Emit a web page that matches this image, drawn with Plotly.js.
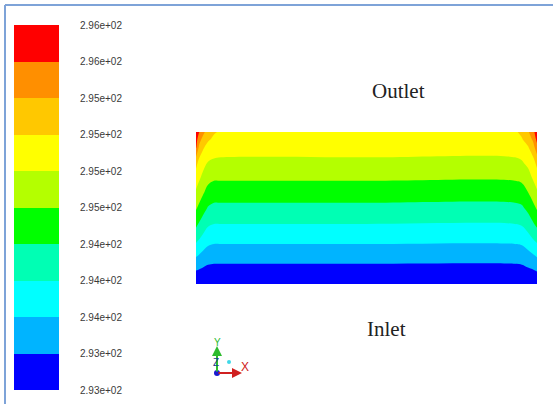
<!DOCTYPE html>
<html>
<head>
<meta charset="utf-8">
<script src="https://cdn.plot.ly/plotly-3.0.1.min.js"></script>
<style>html,body{margin:0;padding:0;background:#fff;}#chart{width:553px;height:404px;}</style>
</head>
<body>
<div id="chart"></div>
<script>
// ---- Data (temperature field, K) ----
// x positions of sampled columns (px-scale units across the domain, 0 = left wall, 341 = right wall)
const xCols = [0, 3, 7, 12, 18, 25, 170, 319, 326, 332, 337, 341];
// y positions of sampled rows (0 = inlet/bottom, 1 = outlet/top)
const yRows = [0, 0.1, 0.2, 0.3, 0.4, 0.5, 0.6, 0.7, 0.8, 0.9, 0.95, 1.0];
// temperature samples, one array per row
const tRow00 = [293.25, 293.24, 293.23, 293.22, 293.22, 293.22, 293.22, 293.22, 293.22, 293.23, 293.25, 293.26];
const tRow01 = [293.51, 293.49, 293.46, 293.42, 293.41, 293.41, 293.41, 293.41, 293.42, 293.46, 293.49, 293.53];
const tRow02 = [293.83, 293.78, 293.71, 293.65, 293.62, 293.62, 293.62, 293.62, 293.64, 293.70, 293.77, 293.83];
const tRow03 = [294.13, 294.06, 293.97, 293.87, 293.84, 293.84, 293.84, 293.84, 293.86, 293.95, 294.05, 294.13];
const tRow04 = [294.40, 294.31, 294.21, 294.09, 294.05, 294.05, 294.05, 294.05, 294.08, 294.18, 294.30, 294.40];
const tRow05 = [294.63, 294.54, 294.42, 294.30, 294.25, 294.25, 294.25, 294.25, 294.28, 294.39, 294.52, 294.63];
const tRow06 = [294.84, 294.74, 294.63, 294.50, 294.45, 294.45, 294.45, 294.45, 294.48, 294.59, 294.72, 294.84];
const tRow07 = [295.02, 294.93, 294.81, 294.69, 294.64, 294.64, 294.64, 294.64, 294.67, 294.78, 294.91, 295.02];
const tRow08 = [295.26, 295.08, 294.98, 294.87, 294.84, 294.83, 294.83, 294.83, 294.86, 294.94, 295.06, 295.24];
const tRow09 = [295.76, 295.40, 295.20, 295.06, 295.00, 294.98, 294.98, 294.98, 295.02, 295.14, 295.32, 295.62];
const tRow095 = [295.85, 295.55, 295.35, 295.20, 295.10, 295.05, 295.05, 295.05, 295.14, 295.28, 295.48, 295.80];
const tRow10 = [295.95, 295.74, 295.52, 295.30, 295.19, 295.12, 295.12, 295.12, 295.22, 295.40, 295.62, 295.90];

// contour levels and legend
const levels = [293.2, 293.48, 293.76, 294.04, 294.32, 294.6, 294.88, 295.16, 295.44, 295.72, 296.0];
const levelLabels = ['2.93e+02','2.93e+02','2.94e+02','2.94e+02','2.94e+02','2.95e+02','2.95e+02','2.95e+02','2.95e+02','2.96e+02','2.96e+02'];
const bandColors = ['#0000ff','#00b4ff','#00ffff','#00ffb4','#00ff00','#b4ff00','#ffff00','#ffc800','#ff8f00','#ff0000'];
const bandIndex = [0, 1, 2, 3, 4, 5, 6, 7, 8, 9];

// ---- build traces ----
const zGrid = [tRow00, tRow01, tRow02, tRow03, tRow04, tRow05, tRow06, tRow07, tRow08, tRow09, tRow095, tRow10];
const nb = bandColors.length;
// contour fill colours are sampled at positions (k+1)/(nb+1)
const contourScale = [[0, bandColors[0]]];
bandColors.forEach((c, k) => contourScale.push([(k + 1) / (nb + 1), c]));
contourScale.push([1, bandColors[nb - 1]]);
// discrete scale for the legend bar
const legendScale = [];
bandColors.forEach((c, k) => { legendScale.push([k / nb, c]); legendScale.push([(k + 1) / nb, c]); });

const W = 553, H = 404;
const px = v => v / W, py = v => 1 - v / H;

const contour = {
  type: 'contour', x: xCols, y: yRows, z: zGrid,
  autocontour: false,
  contours: {start: levels[0], end: levels[levels.length - 1], size: levels[1] - levels[0], coloring: 'fill', showlines: false},
  line: {width: 0},
  colorscale: contourScale, showscale: false, hoverinfo: 'skip',
  xaxis: 'x', yaxis: 'y'
};
const legendBar = {
  type: 'heatmap', x: [0], y: levels, z: bandIndex.map(k => [k]),
  colorscale: legendScale, zmin: -0.5, zmax: nb - 0.5, showscale: false, hoverinfo: 'skip',
  xaxis: 'x2', yaxis: 'y2'
};

const lblFont = {family: 'Arial, "Liberation Sans", sans-serif', size: 10, color: '#3a3a3a'};
const serif = {family: '"Liberation Serif", "Times New Roman", serif', size: 21, color: '#222'};
const note = (x, y, text, font) => ({xref: 'paper', yref: 'paper', x: px(x), y: py(y), xanchor: 'center', yanchor: 'middle', text, showarrow: false, font});

const layout = {
  width: W, height: H, margin: {l: 0, r: 0, t: 0, b: 0},
  paper_bgcolor: '#fff', plot_bgcolor: '#fff', showlegend: false,
  xaxis: {domain: [px(196), px(537)], range: [0, 341], visible: false, fixedrange: true},
  yaxis: {domain: [py(284), py(132)], range: [0, 1], visible: false, fixedrange: true},
  xaxis2: {domain: [px(14), px(59)], range: [-0.5, 0.5], visible: false, anchor: 'y2'},
  yaxis2: {domain: [py(390), py(25)], range: [levels[0], levels[levels.length - 1]], anchor: 'x2', side: 'right',
    tickmode: 'array', tickvals: levels, ticktext: levelLabels, ticks: 'outside', ticklen: 18,
    tickcolor: 'rgba(0,0,0,0)', showline: false, showgrid: false, zeroline: false, tickfont: lblFont},
  shapes: [
    {type: 'line', xref: 'paper', yref: 'paper', x0: px(5), x1: 1, y0: py(5), y1: py(5), line: {color: '#7ea3d8', width: 2}},
    {type: 'line', xref: 'paper', yref: 'paper', x0: px(5), x1: px(5), y0: py(5), y1: 0, line: {color: '#7ea3d8', width: 2}},
    {type: 'circle', xref: 'paper', yref: 'paper', x0: px(214), x1: px(220), y0: py(376), y1: py(370), fillcolor: '#1a1ad0', line: {width: 0}},
    {type: 'circle', xref: 'paper', yref: 'paper', x0: px(227), x1: px(231), y0: py(364), y1: py(360), fillcolor: '#3fd8e8', line: {width: 0}}
  ],
  annotations: [
    note(398, 91, 'Outlet', serif),
    note(386, 329, 'Inlet', serif),
    {xref: 'paper', yref: 'paper', x: px(217), y: py(346), ax: 0, ay: 27, text: '', showarrow: true, arrowhead: 2, arrowsize: 1, arrowwidth: 2, arrowcolor: '#2dbb2d'},
    {xref: 'paper', yref: 'paper', x: px(242), y: py(373), ax: -25, ay: 0, text: '', showarrow: true, arrowhead: 2, arrowsize: 1, arrowwidth: 2, arrowcolor: '#d02020'},
    note(217, 342, 'Y', {family: 'Arial, sans-serif', size: 10, color: '#2dbb2d'}),
    note(245, 367, 'X', {family: 'Arial, sans-serif', size: 12, color: '#d02020'}),
    note(216, 362, 'Z', {family: 'Arial, sans-serif', size: 10, color: '#1a3a8a'})
  ]
};

Plotly.newPlot('chart', [contour, legendBar], layout, {staticPlot: true, displayModeBar: false});
</script>
</body>
</html>
